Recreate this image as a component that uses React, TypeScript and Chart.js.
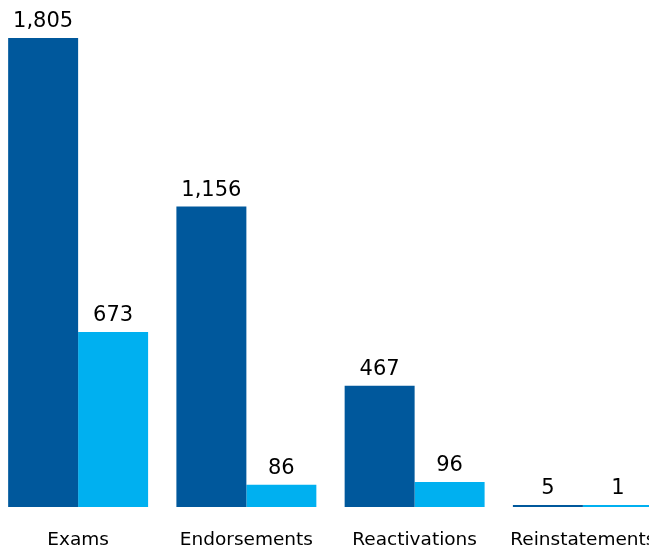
import React, { useEffect, useRef } from "react";
import { Chart, registerables } from "chart.js";

Chart.register(...registerables);

const categories = ["Exams", "Endorsements", "Reactivations", "Reinstatements"];
const seriesA = [1805, 1156, 467, 5];
const seriesB = [673, 86, 96, 1];
const colorA = "#00589C";
const colorB = "#00B0F0";
const FONT = "'DejaVu Sans', sans-serif";

const labelPlugin = {
  id: "valueLabels",
  afterDatasetsDraw(chart: any) {
    const ctx = chart.ctx;
    ctx.save();
    ctx.fillStyle = "#000";
    ctx.textAlign = "center";
    ctx.textBaseline = "alphabetic";
    ctx.font = `21px ${FONT}`;
    chart.data.datasets.forEach((ds: any, di: number) => {
      const meta = chart.getDatasetMeta(di);
      meta.data.forEach((el: any, i: number) => {
        const v = ds.data[i];
        ctx.fillText(v.toLocaleString("en-US"), el.x, el.y - 11);
      });
    });
    const xs = chart.scales.x;
    ctx.font = `18.5px ${FONT}`;
    categories.forEach((c, i) => {
      ctx.fillText(c, xs.getPixelForValue(i), 545);
    });
    ctx.restore();
  },
};

export default function App() {
  const ref = useRef<HTMLCanvasElement | null>(null);
  useEffect(() => {
    document.documentElement.style.overflow = "hidden";
    const chart = new Chart(ref.current!, {
      type: "bar",
      data: {
        labels: categories,
        datasets: [
          { data: seriesA, backgroundColor: colorA, barPercentage: 1, categoryPercentage: 140 / 168.3, minBarLength: 2 },
          { data: seriesB, backgroundColor: colorB, barPercentage: 1, categoryPercentage: 140 / 168.3, minBarLength: 2 },
        ],
      },
      options: {
        animation: false,
        responsive: false,
        maintainAspectRatio: false,
        layout: { padding: { top: 0, bottom: 42, left: 0, right: 0 } },
        plugins: { legend: { display: false }, tooltip: { enabled: false } },
        scales: {
          x: { display: false },
          y: { display: false, min: 0, max: 1951 },
        },
      },
      plugins: [labelPlugin],
    });
    return () => chart.destroy();
  }, []);
  return (
    <div style={{ marginLeft: -14, marginTop: -8, width: 673, height: 549 }}>
      <canvas ref={ref} width={673} height={549} style={{ display: "block" }} />
    </div>
  );
}
